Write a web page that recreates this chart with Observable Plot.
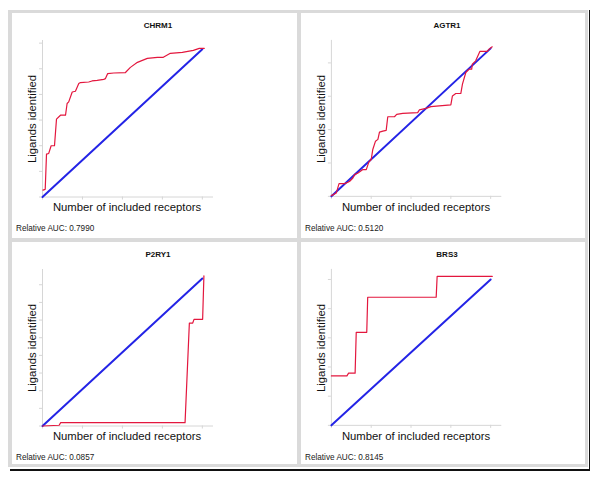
<!DOCTYPE html>
<html>
<head>
<meta charset="utf-8">
<script src="https://cdn.jsdelivr.net/npm/d3@7"></script>
<script src="https://cdn.jsdelivr.net/npm/@observablehq/plot@0.6"></script>
<style>
  body { margin: 0; background: #fff; font-family: "Liberation Sans", Arial, Helvetica, sans-serif; }
  #fig { position: relative; width: 600px; height: 479px; overflow: hidden; }
  .frame { position: absolute; left: 8px; top: 10px; width: 580px; height: 457px; background: #dadada; }
  .vblack { position: absolute; left: 588.5px; top: 10px; width: 1.5px; height: 461px; background: #111; }
  .hblack { position: absolute; left: 10px; top: 469px; width: 580px; height: 1.5px; background: #111; }
  .panel { position: absolute; background: #fff; overflow: hidden; }
  .panel svg { position: absolute; left: 0; top: 0; }
  .title { position: absolute; left: 146px; top: 11.5px; transform: translate(-50%, -50%); font-weight: bold; font-size: 8px; color: #111; white-space: nowrap; }
  .ylab { position: absolute; left: 20px; top: 105.5px; transform: translate(-50%, -50%) rotate(-90deg); font-size: 11.3px; color: #111; white-space: nowrap; }
  .xlab { position: absolute; left: 115px; top: 193.5px; transform: translate(-50%, -50%); font-size: 11.3px; color: #111; white-space: nowrap; }
  .auc { position: absolute; left: 4px; top: 214.5px; transform: translateY(-50%); font-size: 8.2px; color: #222; white-space: nowrap; }
</style>
</head>
<body>
<div id="fig">
  <div class="frame"></div>
  <div class="vblack"></div>
  <div class="hblack"></div>
</div>
<script>
// ---- data ----
const genes = ["CHRM1", "AGTR1", "P2RY1", "BRS3"];
const aucs = ["0.7990", "0.5120", "0.0857", "0.8145"];
const xLabel = "Number of included receptors";
const yLabel = "Ligands identified";
const aucLabel = "Relative AUC: ";

// random-ranking diagonal (fraction of receptors vs fraction of ligands)
const diagX = [0, 1];
const diagY = [0, 1];

// observed enrichment curves (fraction of receptors, fraction of ligands)
const chrm1X = [0.003, 0.017, 0.025, 0.039, 0.054, 0.075, 0.0875, 0.1125, 0.144, 0.154, 0.164, 0.186, 0.206, 0.227, 0.2375, 0.289, 0.31, 0.342, 0.383, 0.394, 0.408, 0.446, 0.519, 0.55, 0.594, 0.656, 0.719, 0.756, 0.8, 0.875, 0.944, 0.981, 1.0125];
const chrm1Y = [0.047, 0.052, 0.29, 0.295, 0.347, 0.347, 0.527, 0.554, 0.554, 0.633, 0.644, 0.711, 0.716, 0.768, 0.775, 0.779, 0.786, 0.79, 0.797, 0.802, 0.836, 0.84, 0.843, 0.878, 0.912, 0.939, 0.946, 0.946, 0.973, 0.98, 0.993, 1.007, 1.007];

const agtr1X = [0, 0.031, 0.048, 0.083, 0.104, 0.115, 0.135, 0.146, 0.167, 0.198, 0.219, 0.235, 0.25, 0.26, 0.277, 0.292, 0.302, 0.323, 0.344, 0.354, 0.396, 0.41, 0.448, 0.542, 0.552, 0.594, 0.625, 0.677, 0.75, 0.76, 0.781, 0.8125, 0.823, 0.844, 0.865, 0.881, 0.885, 0.906, 0.933, 0.979, 0.99, 1.01];
const agtr1Y = [0.005, 0.023, 0.086, 0.086, 0.095, 0.102, 0.124, 0.147, 0.158, 0.181, 0.181, 0.231, 0.249, 0.317, 0.373, 0.385, 0.434, 0.441, 0.446, 0.538, 0.538, 0.554, 0.561, 0.566, 0.584, 0.595, 0.606, 0.611, 0.618, 0.679, 0.695, 0.695, 0.758, 0.837, 0.86, 0.86, 0.894, 0.916, 0.98, 0.98, 0.995, 1.011];

const p2ry1X = [0, 0.104, 0.114, 0.892, 0.919, 0.94, 0.948, 1.002, 1.01];
const p2ry1Y = [0, 0.005, 0.023, 0.023, 0.698, 0.698, 0.723, 0.723, 1.018];

const brs3X = [0, 0.0975, 0.108, 0.149, 0.156, 0.222, 0.228, 0.658, 0.664, 1.01];
const brs3Y = [0.339, 0.339, 0.358, 0.358, 0.638, 0.638, 0.878, 0.878, 1.021, 1.021];

// axis tick positions (unlabelled ticks)
const xTicks = [0, 0.25, 0.5, 0.75, 1];
const chrm1Ticks = [0, 0.1737, 0.3474, 0.5211, 0.6948, 0.8685, 1.0422];
const agtr1Ticks = [0, 0.2255, 0.451, 0.6765, 0.902];
const p2ry1Ticks = [0, 0.1197, 0.2394, 0.3591, 0.4788, 0.5985, 0.7182, 0.8379, 0.9576];
const brs3Ticks = [0, 0.2, 0.4, 0.6, 0.8, 1.0];
const yMaxes = [1.06, 1.054, 1.061, 1.069];

// ---- layout ----
const layout = [
  { left: 12, top: 13, width: 285, height: 225 },
  { left: 301, top: 13, width: 284, height: 225 },
  { left: 12, top: 242, width: 285, height: 222 },
  { left: 301, top: 242, width: 284, height: 222 }
];

const curves = [
  { x: chrm1X, y: chrm1Y, ticks: chrm1Ticks },
  { x: agtr1X, y: agtr1Y, ticks: agtr1Ticks },
  { x: p2ry1X, y: p2ry1Y, ticks: p2ry1Ticks },
  { x: brs3X, y: brs3Y, ticks: brs3Ticks }
];

const fig = document.getElementById("fig");
const axisColor = "#d6d6d6";

genes.forEach((gene, i) => {
  const L = layout[i];
  const c = curves[i];
  const panel = document.createElement("div");
  panel.className = "panel";
  panel.style.left = L.left + "px";
  panel.style.top = L.top + "px";
  panel.style.width = L.width + "px";
  panel.style.height = L.height + "px";

  const observed = c.x.map((v, k) => ({ frac: v, lig: c.y[k] }));
  const diag = diagX.map((v, k) => ({ frac: v, lig: diagY[k] }));

  const svg = Plot.plot({
    width: 285,
    height: 200,
    marginLeft: 30,
    marginRight: 84,
    marginTop: 27,
    marginBottom: 16.5,
    style: { background: "transparent", overflow: "visible" },
    x: { domain: [0, 1.07] },
    y: { domain: [0, yMaxes[i]] },
    marks: [
      Plot.ruleX([0], { stroke: axisColor }),
      Plot.ruleY([0], { stroke: axisColor }),
      Plot.axisX({ ticks: xTicks, tickSize: 3, tickFormat: () => "", stroke: axisColor, label: null }),
      Plot.axisY({ ticks: c.ticks, tickSize: 3, tickFormat: () => "", stroke: axisColor, label: null }),
      Plot.line(diag, { x: "frac", y: "lig", stroke: "#2424e6", strokeWidth: 2 }),
      Plot.line(observed, { x: "frac", y: "lig", stroke: "#e3173e", strokeWidth: 1.2 })
    ]
  });
  panel.appendChild(svg);

  const t = document.createElement("div");
  t.className = "title"; t.textContent = gene; panel.appendChild(t);
  const yl = document.createElement("div");
  yl.className = "ylab"; yl.textContent = yLabel; panel.appendChild(yl);
  const xl = document.createElement("div");
  xl.className = "xlab"; xl.textContent = xLabel; panel.appendChild(xl);
  const a = document.createElement("div");
  a.className = "auc"; a.textContent = aucLabel + aucs[i]; panel.appendChild(a);

  fig.appendChild(panel);
});
</script>
</body>
</html>
